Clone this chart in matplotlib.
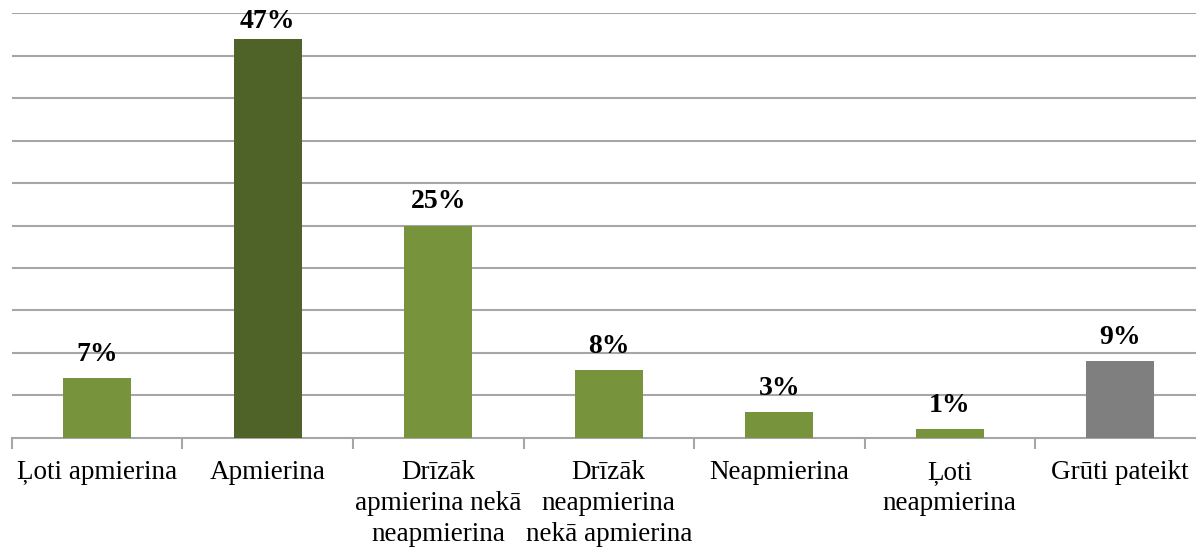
import matplotlib
matplotlib.use("Agg")
import matplotlib.pyplot as plt
import numpy as np

categories = ["Ļoti apmierina", "Apmierina", "Drīzāk\napmierina nekā\nneapmierina",
              "Drīzāk\nneapmierina\nnekā apmierina", "Neapmierina", "Ļoti\nneapmierina",
              "Grūti pateikt"]
values = [7, 47, 25, 8, 3, 1, 9]
labels = ["7%", "47%", "25%", "8%", "3%", "1%", "9%"]
colors = ["#77933C", "#4F6228", "#77933C", "#77933C", "#77933C", "#77933C", "#7F7F7F"]

plt.rcParams['font.family'] = ['Liberation Serif', 'DejaVu Serif']

fig = plt.figure(figsize=(11.96, 5.49), dpi=100)
ax = fig.add_axes([0.01, 0.2022, 0.998, 0.7741])

x = np.arange(len(values))
ax.bar(x, values, width=0.4, color=colors, zorder=3)
ymax = 50
for xi, v, lab in zip(x, values, labels):
    off = 3 if v > ymax - 5 else 8   # label squeezed when bar nearly reaches top
    ax.annotate(lab, (xi, v), xytext=(0, off), textcoords='offset points',
                ha='center', va='bottom', fontsize=20, fontweight='bold', zorder=4)

ax.set_xlim(-0.5, len(values) - 0.5)
ax.set_ylim(0, ymax)
ax.set_yticks(np.arange(5, ymax + 1, 5))
ax.yaxis.grid(True, color='#A6A6A6', linewidth=1.5, zorder=0)
ax.tick_params(axis='y', left=False, labelleft=False)

ax.set_xticks(x)
ax.set_xticklabels(categories, fontsize=19.5, linespacing=1.3)
ax.tick_params(axis='x', which='major', length=0, pad=16)
ax.set_xticks(np.arange(-0.5, len(values), 1), minor=True)
ax.tick_params(axis='x', which='minor', length=8, width=1.5, color='#A6A6A6', direction='out')

for s in ['top', 'right', 'left']:
    ax.spines[s].set_visible(False)
ax.spines['bottom'].set_color('#A6A6A6')
ax.spines['bottom'].set_linewidth(1.5)
ax.set_axisbelow(True)

fig.savefig("out.png", dpi=100)
